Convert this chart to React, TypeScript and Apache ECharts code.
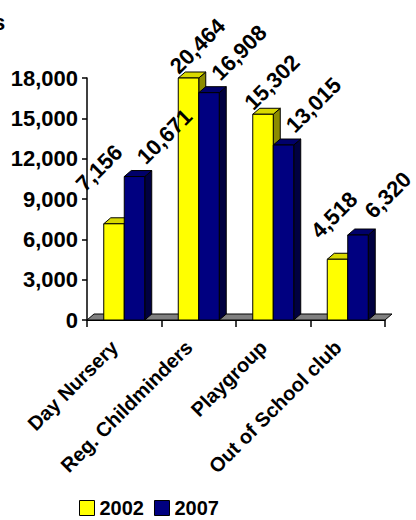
import React, { useEffect, useRef } from "react";
import * as echarts from "echarts";

const categories = ["Day Nursery", "Reg. Childminders", "Playgroup", "Out of School club"];
const seriesNames = ["2002", "2007"];
const values2002 = [7156, 20464, 15302, 4518];
const values2007 = [10671, 16908, 13015, 6320];
const yTicks = [0, 3000, 6000, 9000, 12000, 15000, 18000];

const FONT = "'Liberation Sans', Arial, sans-serif";
const DX = 7;
const DY = 6;
const BAR_FRAC = 0.275;

const palettes = [
  { front: "#FFFF00", top: "#D9D900", side: "#8C8C00" },
  { front: "#000080", top: "#00006A", side: "#000040" },
];

function makeBarRender(idx: number) {
  const pal = palettes[idx];
  return (params: any, api: any) => {
    const cat = api.value(0);
    const val = api.value(1);
    const base = api.coord([cat, 0]);
    const tip = api.coord([cat, val]);
    const cs = params.coordSys;
    const topY = Math.max(tip[1], cs.y);
    const band = api.size([1, 0])[0];
    const w = band * BAR_FRAC;
    const left = idx === 0 ? base[0] - w : base[0];
    const bottom = base[1];
    const stroke = { stroke: "#000", lineWidth: 1 };
    return {
      type: "group",
      children: [
        {
          type: "polygon",
          shape: {
            points: [
              [left + w, topY],
              [left + w + DX, topY - DY],
              [left + w + DX, bottom - DY],
              [left + w, bottom],
            ],
          },
          style: { fill: pal.side, ...stroke },
        },
        {
          type: "polygon",
          shape: {
            points: [
              [left, topY],
              [left + DX, topY - DY],
              [left + w + DX, topY - DY],
              [left + w, topY],
            ],
          },
          style: { fill: pal.top, ...stroke },
        },
        {
          type: "rect",
          shape: { x: left, y: topY, width: w, height: bottom - topY },
          style: { fill: pal.front, ...stroke },
        },
      ],
    };
  };
}

function labelRender(params: any, api: any) {
  const cat = api.value(0);
  const cs = params.coordSys;
  const band = api.size([1, 0])[0];
  const w = band * BAR_FRAC;
  const base = api.coord([cat, 0]);
  const topOf = (v: number) => Math.max(api.coord([cat, v])[1], cs.y);
  const yTop = topOf(values2002[cat]);
  const bTop = topOf(values2007[cat]);
  let yc = [base[0] - w / 2 + 9, yTop - 32];
  const bc = [base[0] + w / 2 + 30, bTop - 40];
  // keep the two rotated labels apart across their normal
  const n = (bc[0] + bc[1] - (yc[0] + yc[1])) / Math.SQRT2;
  const need = 24;
  if (n < need) {
    const s = (need - n) / Math.SQRT2;
    yc = [yc[0] - s, yc[1] - s];
  }
  const mk = (p: number[], v: number) => ({
    type: "text",
    x: p[0],
    y: p[1],
    rotation: Math.PI / 4,
    style: {
      text: v.toLocaleString("en-US"),
      align: "center",
      verticalAlign: "middle",
      fill: "#000",
      font: `bold 22px ${FONT}`,
    },
  });
  return {
    type: "group",
    children: [mk(yc, values2002[cat]), mk(bc, values2007[cat])],
  };
}

function floorRender(params: any) {
  const cs = params.coordSys;
  const y = cs.y + cs.height;
  return {
    type: "polygon",
    shape: {
      points: [
        [cs.x, y],
        [cs.x + cs.width, y],
        [cs.x + cs.width + DX, y - DY],
        [cs.x + DX, y - DY],
      ],
    },
    style: { fill: "#808080", stroke: "#000", lineWidth: 1 },
  };
}

export default function App() {
  const ref = useRef<HTMLDivElement>(null);
  useEffect(() => {
    if (!ref.current) return;
    const chart = echarts.init(ref.current, null, { renderer: "svg" });
    const d2002 = categories.map((_, i) => [i, values2002[i]]);
    const d2007 = categories.map((_, i) => [i, values2007[i]]);
    const dLabels = categories.map((_, i) => [i, 0]);
    chart.setOption({
      animation: false,
      backgroundColor: "#fff",
      graphic: [
        {
          type: "text",
          x: -7,
          y: 11,
          style: { text: "s", fill: "#000", font: `bold 22px ${FONT}` },
        },
      ],
      grid: { left: 87, right: 31, top: 78, bottom: 200, containLabel: false },
      legend: {
        data: seriesNames,
        left: 74,
        top: 493,
        icon: "rect",
        itemWidth: 15,
        itemHeight: 15,
        itemGap: 10,
        itemStyle: { borderColor: "#000", borderWidth: 1 },
        textStyle: {
          fontFamily: FONT,
          fontWeight: "bold",
          fontSize: 20,
          lineHeight: 20,
          color: "#000",
        },
      },
      xAxis: {
        type: "category",
        data: categories,
        boundaryGap: true,
        axisLine: { show: true, lineStyle: { color: "#000", width: 1 } },
        axisTick: { show: true, length: 7, lineStyle: { color: "#000", width: 1.5 } },
        axisLabel: {
          interval: 0,
          rotate: 45,
          margin: 14,
          padding: [0, 14, 0, 0],
          color: "#000",
          fontFamily: FONT,
          fontWeight: "bold",
          fontSize: 20,
        },
        splitLine: { show: false },
      },
      yAxis: {
        type: "value",
        min: yTicks[0],
        max: yTicks[yTicks.length - 1],
        interval: yTicks[1] - yTicks[0],
        axisLine: { show: true, lineStyle: { color: "#000", width: 1.5 } },
        axisTick: { show: true, length: 5, lineStyle: { color: "#000", width: 1.5 } },
        axisLabel: {
          margin: 9,
          color: "#000",
          fontFamily: FONT,
          fontWeight: "bold",
          fontSize: 22,
          formatter: (v: number) => v.toLocaleString("en-US"),
        },
        splitLine: { show: false },
      },
      series: [
        {
          type: "custom",
          name: "floor",
          data: [[0, 0]],
          renderItem: floorRender,
          encode: { x: 0, y: 1 },
          silent: true,
          z: 1,
        },
        {
          type: "custom",
          name: seriesNames[0],
          data: d2002,
          renderItem: makeBarRender(0),
          encode: { x: 0, y: 1 },
          itemStyle: { color: palettes[0].front, borderColor: "#000", borderWidth: 1 },
          z: 2,
        },
        {
          type: "custom",
          name: seriesNames[1],
          data: d2007,
          renderItem: makeBarRender(1),
          encode: { x: 0, y: 1 },
          itemStyle: { color: palettes[1].front, borderColor: "#000", borderWidth: 1 },
          z: 3,
        },
        {
          type: "custom",
          name: "labels",
          data: dLabels,
          renderItem: labelRender,
          encode: { x: 0, y: 1 },
          silent: true,
          z: 10,
        },
      ],
    });
    return () => chart.dispose();
  }, []);
  return <div ref={ref} style={{ width: 416, height: 520, position: "absolute", left: 0, top: 0 }} />;
}
